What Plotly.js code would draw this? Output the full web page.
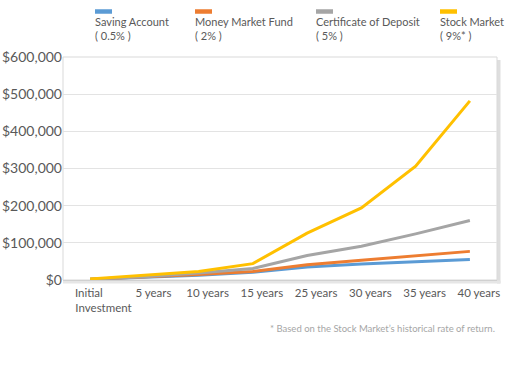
<!DOCTYPE html>
<html>
<head>
<meta charset="utf-8">
<script src="https://cdn.plot.ly/plotly-3.0.1.min.js"></script>
<style>html,body{margin:0;padding:0;background:#fff;}#chart{width:505px;height:371px;}</style>
</head>
<body>
<div id="chart"></div>
<script>
const categories = ["Initial Investment", "5 years", "10 years", "15 years", "25 years", "30 years", "35 years", "40 years"];
const tickLabels = ["Initial\u00A0\u00A0\u00A0\u00A0\u00A0\u00A0\u00A0<br>\u00A0\u00A0\u00A0Investment", "5 years", "10 years", "15 years", "25 years", "30 years", "35 years", "40 years"];
const seriesNames = ["Saving Account", "Money Market Fund", "Certificate of Deposit", "Stock Market"];
const seriesRates = ["( 0.5% )", "( 2% )", "( 5% )", "( 9%* )"];
const savingAccount = [2000, 7000, 13000, 21000, 35000, 43000, 49000, 55000];
const moneyMarket = [2000, 8000, 15000, 23000, 41000, 53000, 64000, 77000];
const certificate = [2000, 9000, 19000, 31000, 66000, 91000, 124000, 160000];
const stockMarket = [3000, 12000, 23000, 44000, 126000, 194000, 306000, 482000];
const colors = ["#5B9BD5", "#ED7D31", "#A5A5A5", "#FFC000"];
const footnote = "* Based on the Stock Market\u2019s historical rate of return.";

const allSeries = [savingAccount, moneyMarket, certificate, stockMarket];
const traces = allSeries.map((vals, i) => ({
  x: categories, y: vals, type: "scatter", mode: "lines", name: seriesNames[i],
  line: {color: colors[i], width: 3}, hoverinfo: "skip"
}));

const W = 505, H = 371;
const L = 63, R = 497, T = 57, B = 280;
const px = v => (v - L) / (R - L);
const py = v => (B - v) / (B - T);
const legendX = [94, 194, 315, 439];
const shapes = [];
const annotations = [];
const fontFam = "Lato, 'Open Sans', sans-serif";
legendX.forEach((lx, i) => {
  shapes.push({type: "line", xref: "paper", yref: "paper",
    x0: px(lx + 1), x1: px(lx + 18), y0: py(11.5), y1: py(11.5),
    line: {color: colors[i], width: 4.5}});
  annotations.push({xref: "paper", yref: "paper", x: px(lx - 1), y: py(21.5),
    xanchor: "left", yanchor: "middle", showarrow: false, text: seriesNames[i],
    font: {family: fontFam, size: 11, color: "#595959"}});
  annotations.push({xref: "paper", yref: "paper", x: px(lx - 1), y: py(35.5),
    xanchor: "left", yanchor: "middle", showarrow: false, text: seriesRates[i],
    font: {family: fontFam, size: 11, color: "#595959"}});
});
annotations.push({xref: "paper", yref: "paper", x: px(497), y: py(328),
  xanchor: "right", yanchor: "middle", showarrow: false, text: footnote,
  font: {family: fontFam, size: 9.5, color: "#A6A6A6"}});

// frame shadow
shapes.push({type: "rect", xref: "paper", yref: "paper", layer: "below",
  x0: px(497), x1: px(500.5), y0: py(283.5), y1: py(60), fillcolor: "#DEDEDE", line: {width: 0}});
shapes.push({type: "rect", xref: "paper", yref: "paper", layer: "below",
  x0: px(63), x1: px(500.5), y0: py(283.5), y1: py(280.5), fillcolor: "#E6E6E6", line: {width: 0}});
shapes.push({type: "rect", xref: "paper", yref: "paper", layer: "below",
  x0: 0, x1: 1, y0: 0, y1: 1, fillcolor: "rgba(0,0,0,0)", line: {color: "#D9D9D9", width: 1}});

const layout = {
  width: W, height: H,
  margin: {l: L, r: W - R, t: T, b: H - B},
  paper_bgcolor: "#fff", plot_bgcolor: "#fff",
  showlegend: false,
  xaxis: {type: "category", range: [-0.5, 7.5], tickvals: categories, ticktext: tickLabels,
    showgrid: false, zeroline: false, showline: true, linecolor: "#D0D0D0", linewidth: 1,
    ticks: "", fixedrange: true, ticklabelstandoff: 2, ticklabelshift: 9,
    tickfont: {family: fontFam, size: 11.5, color: "#595959"}},
  yaxis: {range: [0, 600000], dtick: 100000, tick0: 0, tickprefix: "$", tickformat: ",d",
    showgrid: true, gridcolor: "#E3E3E3", gridwidth: 1, zeroline: false, showline: false,
    ticks: "", fixedrange: true,
    tickfont: {family: fontFam, size: 14, color: "#595959"}},
  shapes: shapes,
  annotations: annotations
};

Plotly.newPlot("chart", traces, layout, {staticPlot: true, displayModeBar: false});
</script>
</body>
</html>
